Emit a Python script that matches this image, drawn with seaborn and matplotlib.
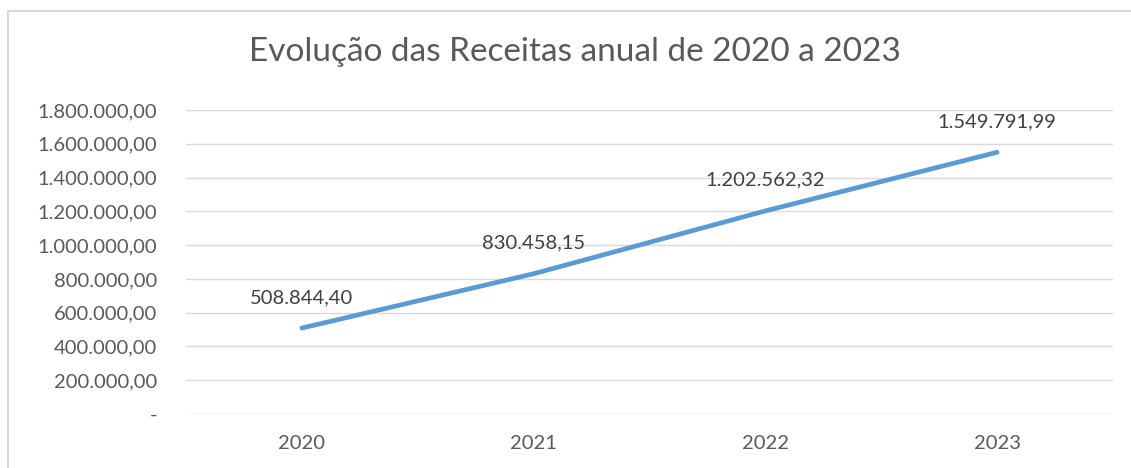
import pandas as pd
import matplotlib
matplotlib.use('Agg')
import matplotlib.pyplot as plt
import seaborn as sns
from matplotlib.patches import Rectangle

# Data
anos = ['2020', '2021', '2022', '2023']
receitas = [508844.40, 830458.15, 1202562.32, 1549791.99]
rotulos = ['508.844,40', '830.458,15', '1.202.562,32', '1.549.791,99']
y_ticks = [0, 200000, 400000, 600000, 800000, 1000000, 1200000, 1400000, 1600000, 1800000]
y_labels = ['-', '200.000,00', '400.000,00', '600.000,00', '800.000,00', '1.000.000,00',
            '1.200.000,00', '1.400.000,00', '1.600.000,00', '1.800.000,00']

df = pd.DataFrame({'Ano': anos, 'Receita': receitas})

sns.set_style('white')
plt.rcParams['font.family'] = ['Lato', 'DejaVu Sans']

txt = '#595959'
fig = plt.figure(figsize=(11.31, 4.68), dpi=100)
ax = fig.add_axes([186 / 1131, 1 - 414 / 468, (1113 - 186) / 1131, (414 - 110) / 468])

sns.lineplot(data=df, x='Ano', y='Receita', ax=ax, color='#5B9BD5',
             linewidth=3.4, solid_capstyle='round', sort=False)

# data labels above points
for i, (v, lab) in enumerate(zip(receitas, rotulos)):
    ax.annotate(lab, (i, v), xytext=(0, 22), textcoords='offset points',
                ha='center', va='center', fontsize=14.5, color='#404040')

ax.set_xlim(-0.5, 3.5)
ax.set_ylim(0, 1800000)
ax.set_yticks(y_ticks)
ax.set_yticklabels(y_labels)
ax.grid(axis='y', color='#D9D9D9', linewidth=1)
ax.set_axisbelow(True)
for s in ax.spines.values():
    s.set_visible(False)
ax.tick_params(axis='both', length=0, labelsize=14.5, labelcolor=txt)
ax.tick_params(axis='y', pad=21)
ax.tick_params(axis='x', pad=15)
ax.set_xlabel('')
ax.set_ylabel('')

fig.text(575 / 1131, 1 - 52 / 468, 'Evolução das Receitas anual de 2020 a 2023',
         ha='center', va='center', fontsize=24, color=txt)

# chart frame (cropped on the right and bottom)
fig.patches.append(Rectangle((8 / 1131, -0.1), 1.2, 1 - 11 / 468 + 0.1,
                             transform=fig.transFigure, fill=False,
                             edgecolor='#D9D9D9', linewidth=1.5))

plt.savefig('out.png', dpi=100)
